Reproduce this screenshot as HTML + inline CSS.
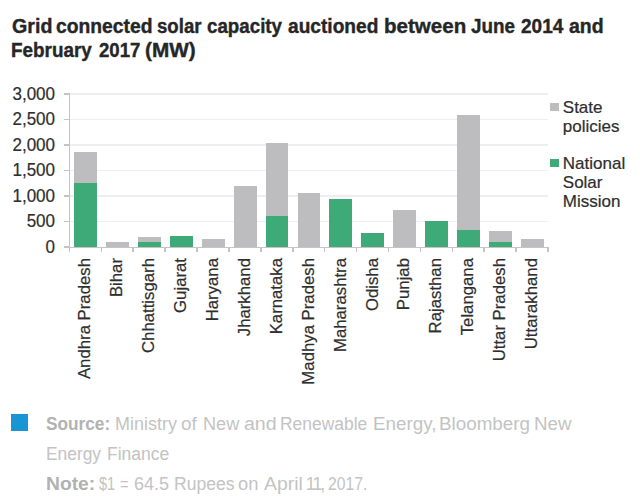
<!DOCTYPE html>
<html><head><meta charset="utf-8"><style>
html,body{margin:0;padding:0;background:#fff;}
body{width:640px;height:501px;position:relative;overflow:hidden;font-family:"Liberation Sans",sans-serif;}
.title{position:absolute;transform-origin:0 0;font-weight:bold;font-size:18.5px;line-height:24px;color:#262626;white-space:nowrap;-webkit-text-stroke:0.35px #262626;}
.gl{position:absolute;left:69.4px;width:479.1px;height:1.5px;background:#eeeeee;}
.tk{position:absolute;left:64px;width:6px;height:1.5px;background:#c4c4c4;}
.yl{position:absolute;left:0;width:55px;text-align:right;font-size:17px;line-height:20px;color:#2e2e2e;-webkit-text-stroke:0.2px #2e2e2e;transform:scaleY(1.08);transform-origin:100% 50%;}
.ax{position:absolute;left:68.65px;top:93.5px;width:1.5px;height:158.5px;background:#c4c4c4;}
.xax{position:absolute;left:69.4px;top:246.5px;width:479.1px;height:1.5px;background:#c4c4c4;}
.xt{position:absolute;top:247px;width:1.5px;height:5px;background:#c4c4c4;}
.bar{position:absolute;width:22.8px;}
.xl{position:absolute;top:258px;width:200px;height:20px;line-height:20px;text-align:right;white-space:nowrap;transform-origin:100% 0;transform:rotate(-90deg);font-size:16.75px;color:#2e2e2e;-webkit-text-stroke:0.2px #2e2e2e;}
.leg{position:absolute;left:562.8px;font-size:17px;line-height:19px;color:#2e2e2e;-webkit-text-stroke:0.2px #2e2e2e;}
.sq{position:absolute;width:8.5px;height:8px;}
.foot{position:absolute;font-size:17.6px;line-height:20px;color:#c3c3c3;white-space:nowrap;transform-origin:0 0;}
.fb{font-weight:bold;color:#b2b2b2;}
</style></head><body>
<div class="title" style="left:11.90px;top:13.9px;transform:scale(1.0635,1.06)">Grid</div>
<div class="title" style="left:56.25px;top:13.9px;transform:scale(1.0435,1.06)">connected</div>
<div class="title" style="left:157.00px;top:13.9px;transform:scale(1.0057,1.06)">solar</div>
<div class="title" style="left:206.90px;top:13.9px;transform:scale(1.0135,1.06)">capacity</div>
<div class="title" style="left:288.10px;top:13.9px;transform:scale(1.0345,1.06)">auctioned</div>
<div class="title" style="left:383.89px;top:13.9px;transform:scale(1.1111,1.06)">between</div>
<div class="title" style="left:470.60px;top:13.9px;transform:scale(1.0186,1.06)">June</div>
<div class="title" style="left:521.25px;top:13.9px;transform:scale(1.0280,1.06)">2014</div>
<div class="title" style="left:569.40px;top:13.9px;transform:scale(1.0531,1.06)">and</div>
<div class="title" style="left:10.88px;top:38.4px;transform:scale(1.0203,1.06)">February</div>
<div class="title" style="left:98.75px;top:38.4px;transform:scale(1.0061,1.06)">2017</div>
<div class="title" style="left:145.13px;top:38.4px;transform:scale(1.1216,1.06)">(MW)</div>
<div class="tk" style="top:246.25px"></div>
<div class="yl" style="top:237.80px">0</div>
<div class="gl" style="top:220.75px"></div>
<div class="tk" style="top:220.75px"></div>
<div class="yl" style="top:212.30px">500</div>
<div class="gl" style="top:195.25px"></div>
<div class="tk" style="top:195.25px"></div>
<div class="yl" style="top:186.80px">1,000</div>
<div class="gl" style="top:169.75px"></div>
<div class="tk" style="top:169.75px"></div>
<div class="yl" style="top:161.30px">1,500</div>
<div class="gl" style="top:144.25px"></div>
<div class="tk" style="top:144.25px"></div>
<div class="yl" style="top:135.80px">2,000</div>
<div class="gl" style="top:118.75px"></div>
<div class="tk" style="top:118.75px"></div>
<div class="yl" style="top:110.30px">2,500</div>
<div class="gl" style="top:93.25px"></div>
<div class="tk" style="top:93.25px"></div>
<div class="yl" style="top:84.80px">3,000</div>
<div class="bar" style="left:74.20px;top:151.78px;height:31.47px;background:#bdbcbe"></div>
<div class="bar" style="left:74.20px;top:183.25px;height:63.75px;background:#3eaa78"></div>
<div class="bar" style="left:106.11px;top:241.90px;height:5.10px;background:#bdbcbe"></div>
<div class="bar" style="left:138.02px;top:236.60px;height:5.30px;background:#bdbcbe"></div>
<div class="bar" style="left:138.02px;top:241.90px;height:5.10px;background:#3eaa78"></div>
<div class="bar" style="left:169.93px;top:235.53px;height:11.47px;background:#3eaa78"></div>
<div class="bar" style="left:201.84px;top:239.35px;height:7.65px;background:#bdbcbe"></div>
<div class="bar" style="left:233.75px;top:185.80px;height:61.20px;background:#bdbcbe"></div>
<div class="bar" style="left:265.66px;top:143.47px;height:72.93px;background:#bdbcbe"></div>
<div class="bar" style="left:265.66px;top:216.40px;height:30.60px;background:#3eaa78"></div>
<div class="bar" style="left:297.57px;top:192.79px;height:54.21px;background:#bdbcbe"></div>
<div class="bar" style="left:329.48px;top:198.55px;height:48.45px;background:#3eaa78"></div>
<div class="bar" style="left:361.39px;top:233.49px;height:13.51px;background:#3eaa78"></div>
<div class="bar" style="left:393.30px;top:209.92px;height:37.08px;background:#bdbcbe"></div>
<div class="bar" style="left:425.21px;top:220.99px;height:26.01px;background:#3eaa78"></div>
<div class="bar" style="left:457.12px;top:114.81px;height:114.85px;background:#bdbcbe"></div>
<div class="bar" style="left:457.12px;top:229.66px;height:17.34px;background:#3eaa78"></div>
<div class="bar" style="left:489.03px;top:231.19px;height:10.51px;background:#bdbcbe"></div>
<div class="bar" style="left:489.03px;top:241.70px;height:5.30px;background:#3eaa78"></div>
<div class="bar" style="left:520.94px;top:238.84px;height:8.16px;background:#bdbcbe"></div>
<div class="xt" style="left:68.65px"></div>
<div class="xt" style="left:100.56px"></div>
<div class="xt" style="left:132.47px"></div>
<div class="xt" style="left:164.38px"></div>
<div class="xt" style="left:196.29px"></div>
<div class="xt" style="left:228.20px"></div>
<div class="xt" style="left:260.11px"></div>
<div class="xt" style="left:292.02px"></div>
<div class="xt" style="left:323.93px"></div>
<div class="xt" style="left:355.84px"></div>
<div class="xt" style="left:387.75px"></div>
<div class="xt" style="left:419.66px"></div>
<div class="xt" style="left:451.57px"></div>
<div class="xt" style="left:483.48px"></div>
<div class="xt" style="left:515.39px"></div>
<div class="xt" style="left:547.30px"></div>
<div class="xl" style="left:-124.64px">Andhra Pradesh</div>
<div class="xl" style="left:-92.73px">Bihar</div>
<div class="xl" style="left:-60.82px">Chhattisgarh</div>
<div class="xl" style="left:-28.91px">Gujarat</div>
<div class="xl" style="left:3.00px">Haryana</div>
<div class="xl" style="left:34.91px">Jharkhand</div>
<div class="xl" style="left:66.81px">Karnataka</div>
<div class="xl" style="left:98.72px">Madhya Pradesh</div>
<div class="xl" style="left:130.63px">Maharashtra</div>
<div class="xl" style="left:162.55px">Odisha</div>
<div class="xl" style="left:194.45px">Punjab</div>
<div class="xl" style="left:226.36px">Rajasthan</div>
<div class="xl" style="left:258.28px">Telangana</div>
<div class="xl" style="left:290.19px">Uttar Pradesh</div>
<div class="xl" style="left:322.10px">Uttarakhand</div>
<div class="ax"></div>
<div class="xax"></div>
<div class="sq" style="left:550px;top:103px;background:#bdbcbe"></div>
<div class="leg" style="top:98px">State<br>policies</div>
<div class="sq" style="left:550px;top:158.7px;background:#3eaa78"></div>
<div class="leg" style="top:154px">National<br>Solar<br>Mission</div>
<div style="position:absolute;left:11px;top:414px;width:17px;height:17.3px;background:#1994d4"></div>
<div class="foot fb" style="left:46.02px;top:413.5px;transform:scaleX(0.9802)">Source:</div>
<div class="foot" style="left:115.23px;top:413.5px;transform:scaleX(1.0208)">Ministry</div>
<div class="foot" style="left:181.43px;top:413.5px;transform:scaleX(1.0714)">of</div>
<div class="foot" style="left:202.72px;top:413.5px;transform:scaleX(1.0294)">New</div>
<div class="foot" style="left:243.89px;top:413.5px;transform:scaleX(1.1111)">and</div>
<div class="foot" style="left:280.26px;top:413.5px;transform:scaleX(0.9914)">Renewable</div>
<div class="foot" style="left:372.93px;top:413.5px;transform:scaleX(1.0702)">Energy,</div>
<div class="foot" style="left:438.93px;top:413.5px;transform:scaleX(1.0693)">Bloomberg</div>
<div class="foot" style="left:533.93px;top:413.5px;transform:scaleX(1.0662)">New</div>
<div class="foot" style="left:46.01px;top:443.5px;transform:scaleX(0.9864)">Energy</div>
<div class="foot" style="left:107.00px;top:443.5px;transform:scaleX(0.9959)">Finance</div>
<div class="foot fb" style="left:45.90px;top:473.5px;transform:scaleX(1.0952)">Note:</div>
<div class="foot" style="left:98.75px;top:473.5px;transform:scaleX(0.8289)">$1</div>
<div class="foot" style="left:120.42px;top:473.5px;transform:scaleX(0.8333)">=</div>
<div class="foot" style="left:133.98px;top:473.5px;transform:scaleX(1.0227)">64.5</div>
<div class="foot" style="left:174.00px;top:473.5px;transform:scaleX(0.9958)">Rupees</div>
<div class="foot" style="left:237.71px;top:473.5px;transform:scaleX(1.0417)">on</div>
<div class="foot" style="left:263.75px;top:473.5px;transform:scaleX(1.1029)">April</div>
<div class="foot" style="left:305.8px;top:473.5px;letter-spacing:-1.9px">11,</div>
<div class="foot" style="left:327.86px;top:473.5px;transform:scaleX(0.8929)">2017.</div>
</body></html>
